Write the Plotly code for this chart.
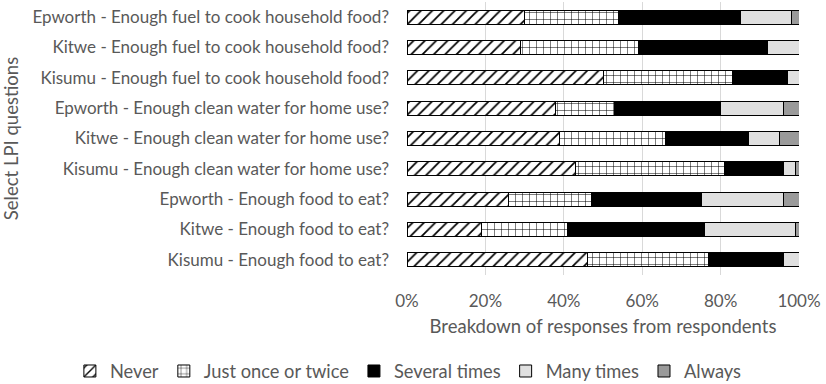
import plotly.graph_objects as go

# Survey questions, listed top to bottom
questions = [
    "Epworth - Enough fuel to cook household food?",
    "Kitwe - Enough fuel to cook household food?",
    "Kisumu - Enough fuel to cook household food?",
    "Epworth - Enough clean water for home use?",
    "Kitwe - Enough clean water for home use?",
    "Kisumu - Enough clean water for home use?",
    "Epworth - Enough food to eat?",
    "Kitwe - Enough food to eat?",
    "Kisumu - Enough food to eat?",
]

# Share of respondents (%) per response category
never = [30, 29, 50, 38, 39, 43, 26, 19, 46]
once_twice = [24, 30, 33, 15, 27, 38, 21, 22, 31]
several = [31, 33, 14, 27, 21, 15, 28, 35, 19]
many = [13, 8, 3, 16, 8, 3, 21, 23, 4]
always = [2, 0, 0, 4, 5, 1, 4, 1, 0]

x_ticks = [0, 20, 40, 60, 80, 100]
x_tick_labels = ["0%", "20%", "40%", "60%", "80%", "100%"]

FONT = "Lato, 'Open Sans', sans-serif"
TEXT = "#595959"

series = [
    ("Never", never, dict(color="white", pattern=dict(shape="/", fgcolor="black", bgcolor="white", size=8, solidity=0.22, fillmode="replace"))),
    ("Just once or twice", once_twice, dict(color="white", pattern=dict(shape="+", fgcolor="black", bgcolor="white", size=7, solidity=0.14, fillmode="replace"))),
    ("Several times", several, dict(color="black")),
    ("Many times", many, dict(color="#e0e0e0")),
    ("Always", always, dict(color="#9a9a9a")),
]

fig = go.Figure()
for name, vals, marker in series:
    marker = dict(marker)
    marker["line"] = dict(color="black", width=1)
    fig.add_trace(go.Bar(
        y=questions, x=vals, name=name, orientation="h",
        marker=marker,
    ))

fig.update_layout(
    width=826, height=384,
    barmode="stack", bargap=0.54,
    plot_bgcolor="white", paper_bgcolor="white",
    margin=dict(l=407, r=27, t=2, b=109, autoexpand=False),
    font=dict(family=FONT, size=17, color=TEXT),
    showlegend=True,
    legend=dict(
        orientation="h",
        x=-0.86, xanchor="left", y=-0.352, yanchor="middle",
        font=dict(size=18.3, color=TEXT), traceorder="normal",
        itemwidth=30,
    ),
    xaxis=dict(
        range=[0, 100], tickvals=x_ticks, ticktext=x_tick_labels,
        showgrid=True, gridcolor="#d9d9d9", gridwidth=1,
        zeroline=False, showline=False,
        ticklabelstandoff=14, tickfont=dict(size=17, color=TEXT),
        title=dict(text="Breakdown of responses from respondents", standoff=10,
                   font=dict(size=18.5, color=TEXT)),
    ),
    yaxis=dict(
        autorange="reversed", showgrid=False, zeroline=False,
        ticks="", ticklabelstandoff=17, tickfont=dict(size=17, color=TEXT),
        title=dict(text="Select LPI questions", standoff=8,
                   font=dict(size=18.5, color=TEXT)),
    ),
)

fig.write_html("out.html")
